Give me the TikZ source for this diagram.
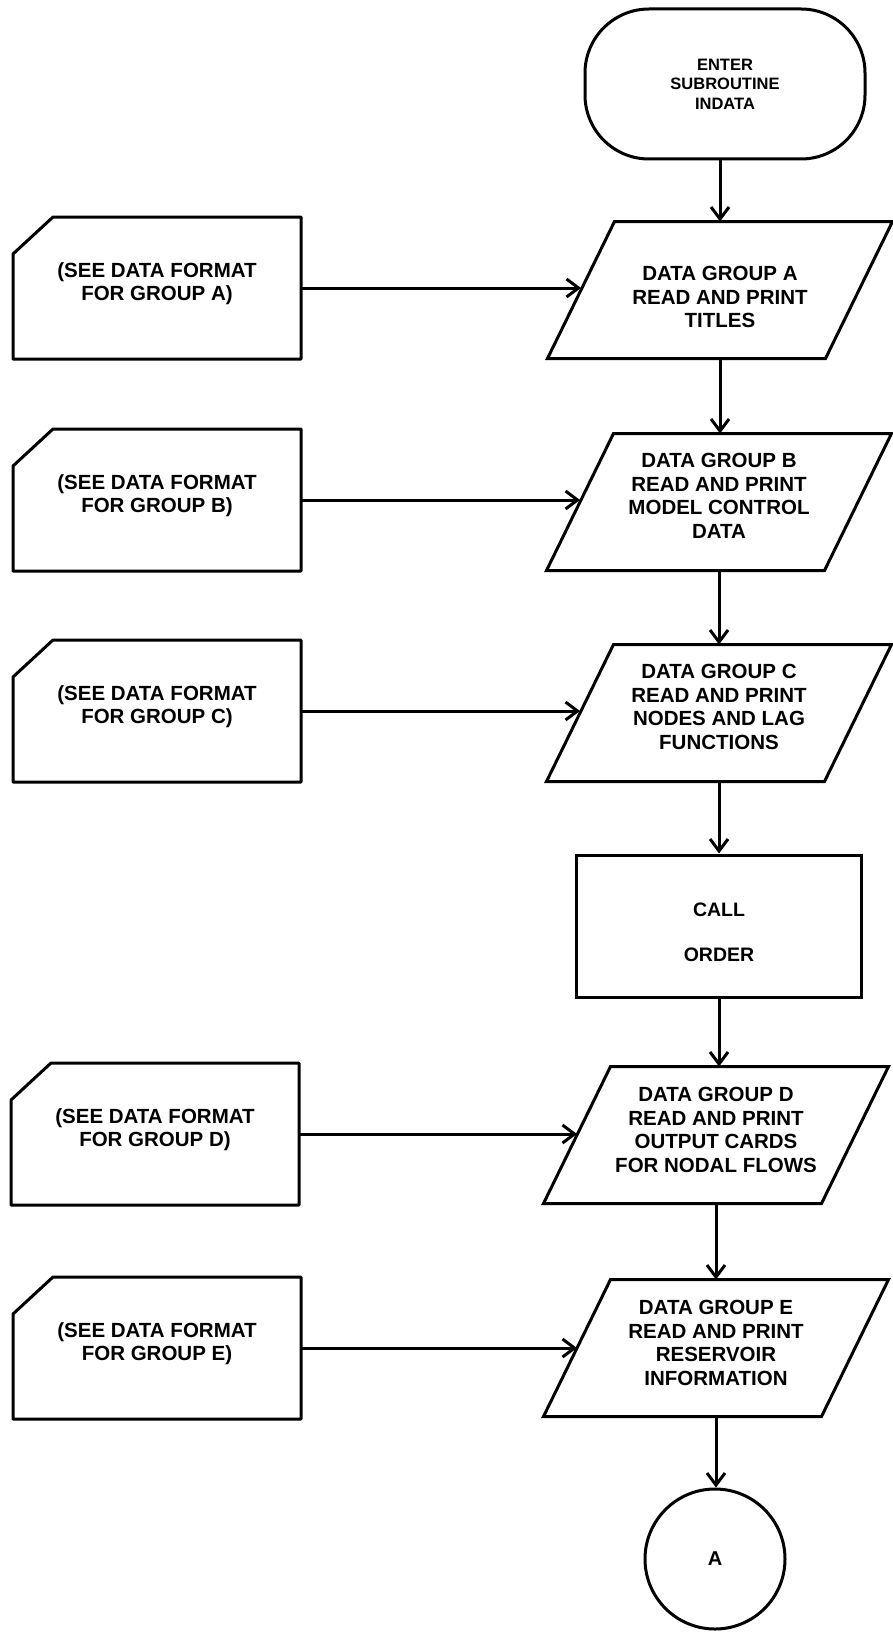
\documentclass[tikz,border=0pt]{standalone}
\usepackage{fontspec}
\setmainfont{Liberation Sans}
\usetikzlibrary{shapes.geometric,arrows.meta}
\begin{document}
\begin{tikzpicture}[x=1pt,y=-1pt,
  every node/.style={text=black},
  lw/.style={line width=3pt},
  arr/.style={lw,-{Straight Barb[length=12pt,width=18pt]}},
  term/.style={draw,lw,rectangle,rounded corners=64pt,minimum width=280pt,minimum height=150pt,align=center,font=\fontsize{16.5}{19.5}\selectfont\bfseries},
  para/.style={rectangle,outer sep=0pt,minimum width=278pt,minimum height=137pt,inner sep=0pt,align=center,font=\fontsize{20.5}{23.5}\selectfont\bfseries},
  inbox/.style={rectangle,outer sep=0pt,minimum width=288pt,minimum height=142pt,align=center,font=\fontsize{20.5}{22.5}\selectfont\bfseries},
  procbox/.style={draw,lw,rectangle,minimum width=285pt,minimum height=142pt,align=center,font=\fontsize{19.5}{45}\selectfont\bfseries},
  conn/.style={draw,lw,circle,minimum size=140pt,inner sep=0pt,font=\fontsize{20}{24}\selectfont\bfseries}
]
\useasboundingbox (0,0) rectangle (892,1632);

% main column
\node[term] (term) at (725,84) {ENTER\\SUBROUTINE\\INDATA};
\node[para] (pA) at (720,290) {\mbox{}\\[5.5pt]DATA GROUP A\\READ AND PRINT\\TITLES};
\node[para] (pB) at (719,502) {DATA GROUP B\\READ AND PRINT\\MODEL CONTROL\\DATA\\[-11.5pt]\mbox{}};
\node[para] (pC) at (719,713) {DATA GROUP C\\READ AND PRINT\\NODES AND LAG\\FUNCTIONS\\[-11.5pt]\mbox{}};
\node[procbox] (call) at (719,926) {\mbox{}\\[-19pt]CALL\\ORDER};
\node[para] (pD) at (716,1135) {DATA GROUP D\\READ AND PRINT\\OUTPUT CARDS\\FOR NODAL FLOWS\\[-13.5pt]\mbox{}};
\node[para] (pE) at (716,1348) {DATA GROUP E\\READ AND PRINT\\RESERVOIR\\INFORMATION\\[-13.5pt]\mbox{}};
\node[conn] (circA) at (715,1559) {A};

\foreach \n in {pA,pB,pC,pD,pE}{
  \draw[lw,line join=miter] ([xshift=33.5pt]\n.north west) -- ([xshift=33.5pt]\n.north east)
     -- ([xshift=-33.5pt]\n.south east) -- ([xshift=-33.5pt]\n.south west) -- cycle;
}

% input cards
\node[inbox] (inA) at (157,288) {(SEE DATA FORMAT\\FOR GROUP A)\\[-10pt]\mbox{}};
\node[inbox] (inB) at (157,500) {(SEE DATA FORMAT\\FOR GROUP B)\\[-10pt]\mbox{}};
\node[inbox] (inC) at (157,711) {(SEE DATA FORMAT\\FOR GROUP C)\\[-10pt]\mbox{}};
\node[inbox] (inD) at (155,1134) {(SEE DATA FORMAT\\FOR GROUP D)\\[-10pt]\mbox{}};
\node[inbox] (inE) at (157,1348) {(SEE DATA FORMAT\\FOR GROUP E)\\[-10pt]\mbox{}};
\foreach \n in {inA,inB,inC,inD,inE}{
  \draw[lw,line join=round] ([yshift=-37pt]\n.north west) -- ([xshift=40pt]\n.north west)
     -- (\n.north east) -- (\n.south east) -- (\n.south west) -- cycle;
}

% vertical flow
\draw[arr] (term.south -| pA.north) -- (pA.north);
\draw[arr] (pA.south) -- (pA.south |- pB.north);
\draw[arr] (pB.south) -- (pB.south |- pC.north);
\draw[arr] (pC.south) -- (pC.south |- call.north);
\draw[arr] (call.south) -- (call.south |- pD.north);
\draw[arr] (pD.south) -- (pD.south |- pE.north);
\draw[arr] (pE.south) -- (pE.south |- circA.north);

% inputs
\draw[arr] (inA.east) -- (inA.east -| pA.west);
\draw[arr] (inB.east) -- (inB.east -| pB.west);
\draw[arr] (inC.east) -- (inC.east -| pC.west);
\draw[arr] (inD.east) -- (inD.east -| pD.west);
\draw[arr] (inE.east) -- (inE.east -| pE.west);
\end{tikzpicture}
\end{document}
